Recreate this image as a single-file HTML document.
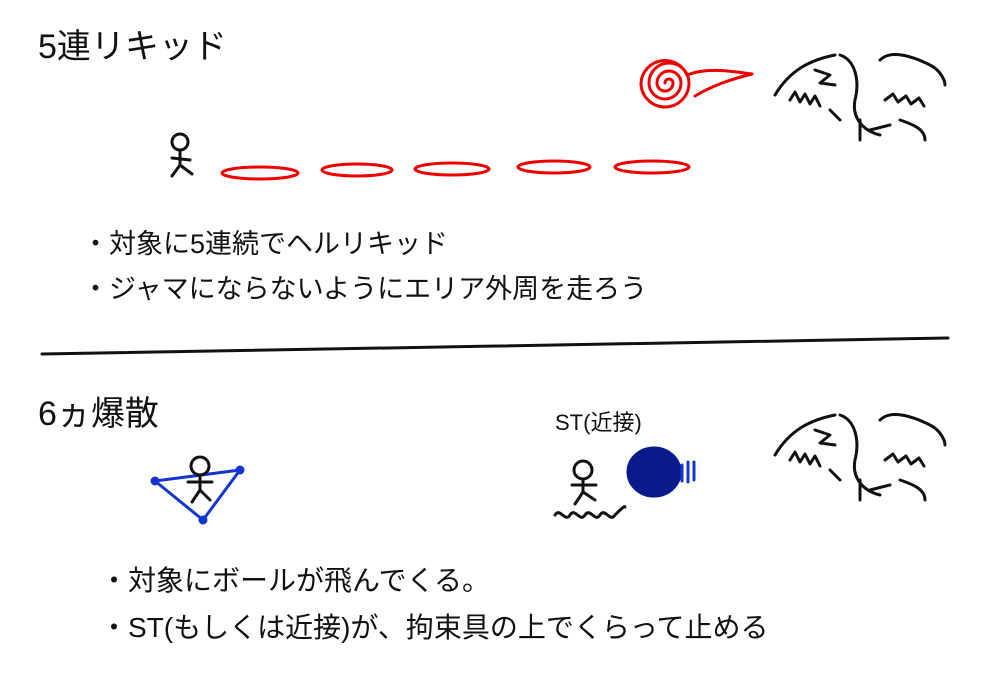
<!DOCTYPE html>
<html><head><meta charset="utf-8">
<style>
html,body{margin:0;padding:0;background:#fff;}
body{width:1000px;height:677px;overflow:hidden;position:relative;}
svg{position:absolute;left:0;top:0;}
text{font-family:"Liberation Sans","Noto Sans CJK JP",sans-serif;fill:#111;}
</style></head>
<body>
<svg width="1000" height="677" viewBox="0 0 1000 677">
<g fill="none" stroke="#111" stroke-width="3" stroke-linecap="round" stroke-linejoin="round">
  <text x="38" y="58" font-size="34" stroke="none">5連リキッド</text>
  <g stroke="#e00">
    <path d="M665,83 a4,4 0 0,1 8,0 a8,8 0 0,1 -16,0 a12,12 0 0,1 24,0 a16,16 0 0,1 -32,0 a20,20 0 0,1 40,0 a24,24 0 0,1 -48,0 a24,24 0 0,1 46,-8 C705,68 725,70 752,74 C728,80 712,86 695,96"/>
  </g>
  <g>
    <path d="M775,95 C790,70 810,60 835,55 M790,100 l5,-8 5,10 5,-8 5,10 5,-8 5,10 M840,55 c15,5 20,25 15,45 c-3,15 5,30 25,35 M880,60 c10,-10 30,-5 50,5 c10,5 15,15 15,20 M885,100 l8,-6 5,8 8,-6 5,8 8,-6 5,8 M830,110 l10,10 M860,120 l0,20 M870,130 l20,-5 M900,120 c15,5 25,10 25,20 M815,70 l15,5 -10,8 15,2"/>
  </g>
  <g>
    <circle cx="180" cy="142" r="8"/><path d="M180,150 L180,165 M172,158 L190,160 M180,165 L172,176 M180,165 L192,174"/>
  </g>
  <g stroke="#e00">
    <ellipse cx="260" cy="173" rx="38" ry="6"/>
    <ellipse cx="357" cy="170" rx="35" ry="6"/>
    <ellipse cx="452" cy="169" rx="37" ry="6"/>
    <ellipse cx="554" cy="167" rx="36" ry="6"/>
    <ellipse cx="652" cy="167" rx="37" ry="6"/>
  </g>
  <text x="82" y="253" font-size="27" stroke="none">・対象に5連続でヘルリキッド</text>
  <text x="82" y="298" font-size="27" stroke="none">・ジャマにならないようにエリア外周を走ろう</text>
  <path d="M42,354 C300,350 700,342 948,338"/>
  <text x="38" y="425" font-size="34" stroke="none">6ヵ爆散</text>
  <g stroke="#1535d0">
    <path d="M155,481 L240,470 L203,520 Z"/>
    <circle cx="155" cy="481" r="3" fill="#1535d0"/><circle cx="240" cy="470" r="3" fill="#1535d0"/><circle cx="203" cy="520" r="3" fill="#1535d0"/>
  </g>
  <g>
    <circle cx="200" cy="466" r="9"/><path d="M200,475 L200,490 M188,482 L212,482 M200,490 L192,502 M200,490 L210,500"/>
  </g>
  <text x="555" y="430" font-size="22" stroke="none">ST(近接)</text>
  <g>
    <circle cx="583" cy="470" r="9"/><path d="M583,479 L583,492 M572,485 L596,485 M583,492 L575,504 M583,492 L595,500"/>
  </g>
  <path d="M555,515 c5,-8 10,8 15,0 c5,-8 10,8 15,0 c5,-8 10,8 15,0 c5,-8 10,8 15,0 c5,-5 10,-10 10,-8"/>
  <ellipse cx="654" cy="472" rx="26" ry="24" fill="#0a1a8c" stroke="#0a1a8c"/>
  <path d="M682,465 l0,16 M688,462 l0,20 M694,462 l0,18" stroke="#1535d0"/>
  <g>
    <path d="M775,455 C790,430 810,420 835,415 M790,460 l5,-8 5,10 5,-8 5,10 5,-8 5,10 M840,415 c15,5 20,25 15,45 c-3,15 5,30 25,35 M880,420 c10,-10 30,-5 50,5 c10,5 15,15 15,20 M885,460 l8,-6 5,8 8,-6 5,8 8,-6 5,8 M830,470 l10,10 M860,480 l0,20 M870,490 l20,-5 M900,480 c15,5 25,10 25,20 M815,430 l15,5 -10,8 15,2"/>
  </g>
  <text x="100" y="590" font-size="28" stroke="none">・対象にボールが飛んでくる。</text>
  <text x="100" y="637" font-size="28" stroke="none">・ST(もしくは近接)が、拘束具の上でくらって止める</text>
</g>
</svg>
</body></html>
